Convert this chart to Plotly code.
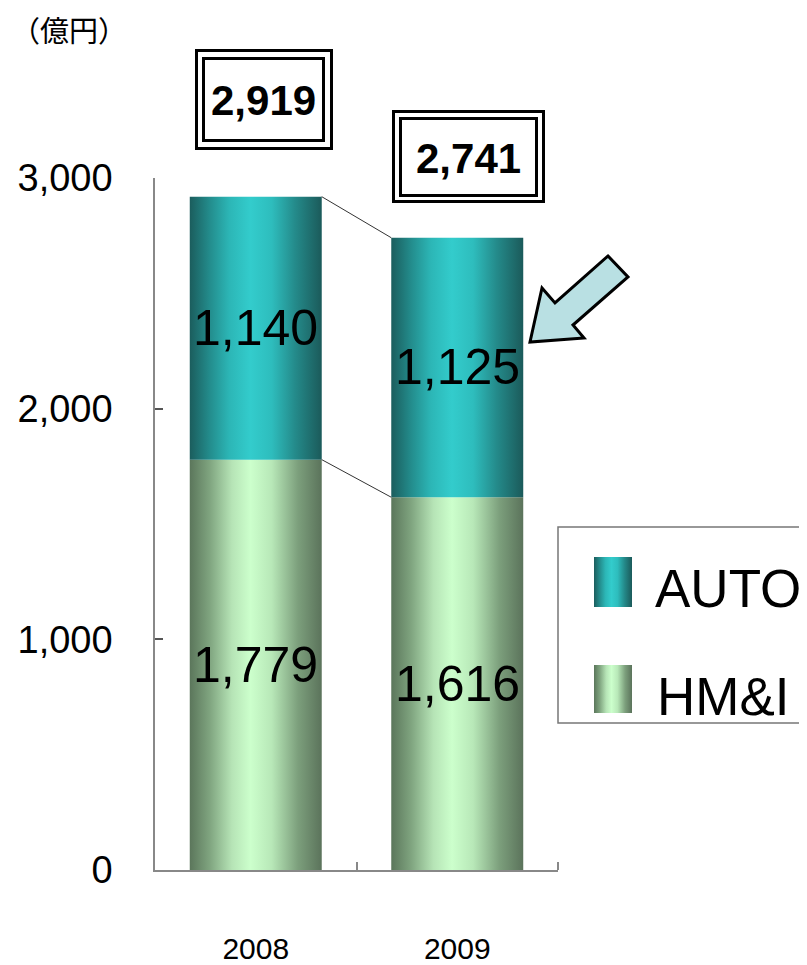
import plotly.graph_objects as go

# ---------------- data ----------------
years = ["2008", "2009"]
hmi = [1779, 1616]
auto = [1140, 1125]
totals = [h + a for h, a in zip(hmi, auto)]
y_ticks = [0, 1000, 2000, 3000]
y_tick_text = ["0", "1,000", "2,000", "3,000"]
unit_label = "（億円）"
series_names = ["AUTO", "HM&I"]

# ---------------- styling ----------------
OFF = 8                     # page offset of the plot div
W, H = 807 - OFF, 965 - OFF
NARROW = "Liberation Sans, Arial, sans-serif"
CJK = "Noto Sans CJK JP, sans-serif"
BAR_W = 0.655

AUTO_SCALE = [[0, "#1b5d5d"], [0.15, "#238c8c"], [0.3, "#2cb6b6"], [0.46, "#33cccc"],
              [0.62, "#2ebdbd"], [0.8, "#248a8a"], [1, "#1b5a5a"]]
HMI_SCALE = [[0, "#5b765b"], [0.15, "#7fa47f"], [0.32, "#b6e4b6"], [0.46, "#ccffcc"],
             [0.62, "#b8e8b8"], [0.82, "#7c9f7c"], [1, "#5b735b"]]


def px(x):
    return (x - OFF) / W


def py(y):
    return 1 - (y - OFF) / H


def nfont(size, color="black"):
    return dict(family=NARROW, size=size, color=color)


fig = go.Figure()

# stacked bars drawn as gradient-filled rectangles on the data axes
for i, yr in enumerate(years):
    segs = [(0, hmi[i], HMI_SCALE), (hmi[i], hmi[i] + auto[i], AUTO_SCALE)]
    for base, top, scale in segs:
        x0, x1 = i - BAR_W / 2, i + BAR_W / 2
        fig.add_trace(go.Scatter(
            x=[x0, x1, x1, x0, x0], y=[base, base, top, top, base],
            mode="lines", line=dict(width=0), fill="toself",
            fillgradient=dict(type="horizontal", colorscale=scale),
            showlegend=False, hoverinfo="skip", xaxis="x", yaxis="y"))

# series lines between bars
for vals in (totals, hmi):
    fig.add_trace(go.Scatter(
        x=[0 + BAR_W / 2, 1 - BAR_W / 2], y=[vals[0], vals[1]],
        mode="lines", line=dict(color="#333333", width=1),
        showlegend=False, hoverinfo="skip", xaxis="x", yaxis="y"))

# legend swatches on a full-figure pixel overlay axis
swatches = [(594, 632, 557, 607, AUTO_SCALE), (594, 632, 665, 713, HMI_SCALE)]
for x0, x1, y0, y1, scale in swatches:
    fig.add_trace(go.Scatter(
        x=[x0, x1, x1, x0, x0], y=[y0, y0, y1, y1, y0],
        mode="lines", line=dict(width=0), fill="toself",
        fillgradient=dict(type="horizontal", colorscale=scale),
        showlegend=False, hoverinfo="skip", xaxis="x2", yaxis="y2"))

annotations = []
# in-bar value labels
for i in range(len(years)):
    annotations.append(dict(x=i, y=hmi[i] / 2, xref="x", yref="y", text=f"{hmi[i]:,}",
                            showarrow=False, font=nfont(50)))
    annotations.append(dict(x=i, y=hmi[i] + auto[i] / 2, xref="x", yref="y", text=f"{auto[i]:,}",
                            showarrow=False, font=nfont(50)))

# total boxes
boxes = [((195, 49, 333, 150), (202, 57, 325, 142)),
         ((392, 110, 545, 203), (399, 117, 538, 197))]
shapes = []
for i, (outer, inner) in enumerate(boxes):
    for (x0, y0, x1, y1) in (outer, inner):
        shapes.append(dict(type="rect", xref="paper", yref="paper",
                           x0=px(x0 + 1.5), x1=px(x1 - 1.5), y0=py(y0 + 1.5), y1=py(y1 - 1.5),
                           line=dict(color="black", width=3), fillcolor="white", layer="below"))
    cx = (inner[0] + inner[2]) / 2
    cy = (inner[1] + inner[3]) / 2
    annotations.append(dict(x=px(cx), y=py(cy + 1), xref="paper", yref="paper",
                            xanchor="center", yanchor="middle",
                            text=f"<b>{totals[i]:,}</b>", showarrow=False,
                            font=nfont(42)))

# arrow
pts = [(530, 342), (542, 288), (555, 303), (608, 256), (628, 277), (573, 325), (584, 338)]
path = "M " + " L ".join(f"{px(x):.5f},{py(y):.5f}" for x, y in pts) + " Z"
shapes.append(dict(type="path", xref="paper", yref="paper", path=path,
                   fillcolor="#b9e0e3", line=dict(color="black", width=3), layer="above"))

# legend box
shapes.append(dict(type="rect", xref="paper", yref="paper",
                   x0=px(558), x1=px(812), y0=py(527), y1=py(723),
                   line=dict(color="#777777", width=1.5), fillcolor="rgba(0,0,0,0)", layer="below"))
annotations.append(dict(x=px(653), y=py(588), xref="paper", yref="paper",
                        xanchor="left", yanchor="middle",
                        text=series_names[0], showarrow=False, font=nfont(53)))
annotations.append(dict(x=px(655), y=py(696), xref="paper", yref="paper",
                        xanchor="left", yanchor="middle",
                        text=series_names[1], showarrow=False, font=nfont(53)))

# unit label
annotations.append(dict(x=px(9), y=py(29), xref="paper", yref="paper",
                        xanchor="left", yanchor="middle",
                        text=unit_label, showarrow=False,
                        font=dict(family=CJK, size=29, color="black")))

fig.update_layout(
    width=W, height=H, margin=dict(l=0, r=0, t=0, b=0, autoexpand=False),
    paper_bgcolor="white", plot_bgcolor="rgba(0,0,0,0)",
    showlegend=False,
    xaxis=dict(domain=[px(155), px(558)], range=[-0.5, 1.5], automargin=False,
               tickvals=[0, 1], ticktext=years, ticks="",
               showgrid=False, zeroline=False, showline=True, linecolor="#888888", linewidth=1.5,
               tickfont=nfont(30), ticklabelstandoff=51,
               minor=dict(tickvals=[0.5, 1.5], ticks="inside", ticklen=8, tickcolor="#888888",
                          tickwidth=1.5, showgrid=False),
               fixedrange=True),
    yaxis=dict(domain=[py(870), py(178)], range=[0, 3000], automargin=False,
               tickvals=y_ticks, ticktext=y_tick_text, ticks="inside", ticklen=8,
               tickcolor="#555555", tickwidth=1.5,
               showgrid=False, zeroline=False, showline=True, linecolor="#888888", linewidth=1.5,
               tickfont=nfont(38), ticklabelstandoff=33,
               fixedrange=True),
    xaxis2=dict(domain=[0, 1], range=[OFF, OFF + W], visible=False, anchor="y2", fixedrange=True,
                automargin=False),
    yaxis2=dict(domain=[0, 1], range=[OFF + H, OFF], visible=False, anchor="x2", fixedrange=True,
                automargin=False),
    shapes=shapes, annotations=annotations,
)

fig.write_html("out.html")
